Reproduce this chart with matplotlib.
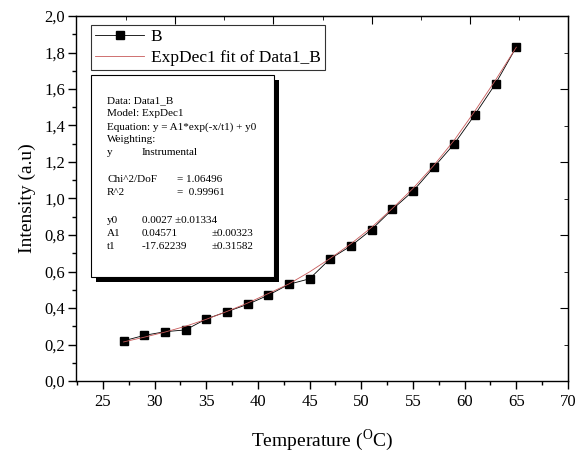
import numpy as np
import matplotlib
matplotlib.use("Agg")
import matplotlib.pyplot as plt
from matplotlib.patches import Rectangle
from matplotlib.ticker import MultipleLocator, FuncFormatter, FixedLocator

plt.rcParams['font.family'] = ['Liberation Serif', 'DejaVu Serif']
plt.rcParams['mathtext.fontset'] = 'custom'
plt.rcParams['mathtext.rm'] = 'Liberation Serif'

# data
temp = [27, 29, 31, 33, 35, 37, 39, 41, 43, 45, 47, 49, 51, 53, 55, 57, 59, 61, 63, 65]
intensity = [0.22, 0.25, 0.27, 0.28, 0.34, 0.38, 0.42, 0.47, 0.53, 0.56,
             0.67, 0.74, 0.83, 0.94, 1.04, 1.17, 1.30, 1.46, 1.63, 1.83]
fit_vals = [0.214, 0.240, 0.268, 0.300, 0.338, 0.381, 0.427, 0.479, 0.532, 0.598,
            0.672, 0.752, 0.842, 0.945, 1.055, 1.180, 1.320, 1.480, 1.650, 1.829]

stats_lines = [
    ("Data: Data1_B", "", ""),
    ("Model: ExpDec1", "", ""),
    ("Equation: y = A1*exp(-x/t1) + y0", "", ""),
    ("Weighting:", "", ""),
    ("y", "Instrumental", ""),
    ("", "", ""),
    ("Chi^2/DoF", "", "= 1.06496"),
    ("R^2", "", "=  0.99961"),
    ("", "", ""),
    ("y0", "0.0027 \u00b10.01334", ""),
    ("A1", "0.04571", "\u00b10.00323"),
    ("t1", "-17.62239", "\u00b10.31582"),
]

W, H = 579, 459
fig = plt.figure(figsize=(5.79, 4.59), dpi=100)
ax = fig.add_axes([76 / W, 1 - 381 / H, (568 - 76) / W, (381 - 16) / H])

ax.plot(temp, intensity, color='black', linewidth=0.6, marker='s',
        markersize=5.5, label='B')
ax.plot(temp, fit_vals, color='#c85a5a', linewidth=0.6,
        label='ExpDec1 fit of Data1_B')

ax.set_xlim(22.4, 70)
ax.set_ylim(0, 2.0)
ax.xaxis.set_major_locator(MultipleLocator(5))
ax.xaxis.set_minor_locator(MultipleLocator(2.5))
ax.yaxis.set_major_locator(MultipleLocator(0.2))
ax.yaxis.set_minor_locator(MultipleLocator(0.1))
ax.yaxis.set_major_formatter(FuncFormatter(lambda v, p: ('%.1f' % v).replace('.', ',')))
ax.tick_params(which='major', direction='out', length=6, width=1, labelsize=12)
ax.tick_params(which='minor', direction='out', length=3, width=1)
ax.tick_params(axis='y', pad=2)
for s in ax.spines.values():
    s.set_linewidth(1.0)

# top and right ticks (inward)
top = ax.secondary_xaxis('top')
top.xaxis.set_major_locator(FixedLocator([32, 41.5, 51, 60.5]))
top.xaxis.set_minor_locator(FixedLocator([27.25, 36.75, 46.25, 55.75, 65.25]))
top.tick_params(which='major', direction='in', length=6, labeltop=False)
top.tick_params(which='minor', direction='in', length=3)
right = ax.secondary_yaxis('right')
right.yaxis.set_major_locator(FixedLocator([0.4, 0.8, 1.2, 1.6]))
right.yaxis.set_minor_locator(FixedLocator([0.2, 0.6, 1.0, 1.4, 1.8]))
right.tick_params(which='major', direction='in', length=6, labelright=False)
right.tick_params(which='minor', direction='in', length=3)

ax.set_xlabel('Temperature ($^{\\mathrm{O}}$C)', fontsize=14, labelpad=12)
ax.set_ylabel('Intensity (a.u)', fontsize=14, labelpad=6)

leg = ax.legend(loc='upper left', bbox_to_anchor=(91 / W, 1 - 25 / H),
                bbox_transform=fig.transFigure, borderaxespad=0,
                fancybox=False, edgecolor='black', fontsize=12.5,
                handlelength=2.8, borderpad=0.25, labelspacing=0.25,
                handletextpad=0.4)
leg.get_frame().set_linewidth(0.8)

# stats box with shadow
x0, y0, x1, y1 = 91, 75, 274, 277
sh = 5
fig.add_artist(Rectangle(((x0 + sh) / W, 1 - (y1 + sh) / H), (x1 - x0) / W, (y1 - y0) / H,
                         transform=fig.transFigure, facecolor='black', edgecolor='none'))
fig.add_artist(Rectangle((x0 / W, 1 - y1 / H), (x1 - x0) / W, (y1 - y0) / H,
                         transform=fig.transFigure, facecolor='white', edgecolor='black',
                         linewidth=0.8))
ty = 101
for a, b, c in stats_lines:
    if a:
        fig.text(107 / W, 1 - ty / H, a, fontsize=8, va='center')
    if b:
        fig.text(142 / W, 1 - ty / H, b, fontsize=8, va='center')
    if c:
        cx = 177 if c.startswith('=') else 212
        fig.text(cx / W, 1 - ty / H, c, fontsize=8, va='center')
    ty += 12.9 if a or b or c else 14.5

fig.savefig('out.png', dpi=100)
